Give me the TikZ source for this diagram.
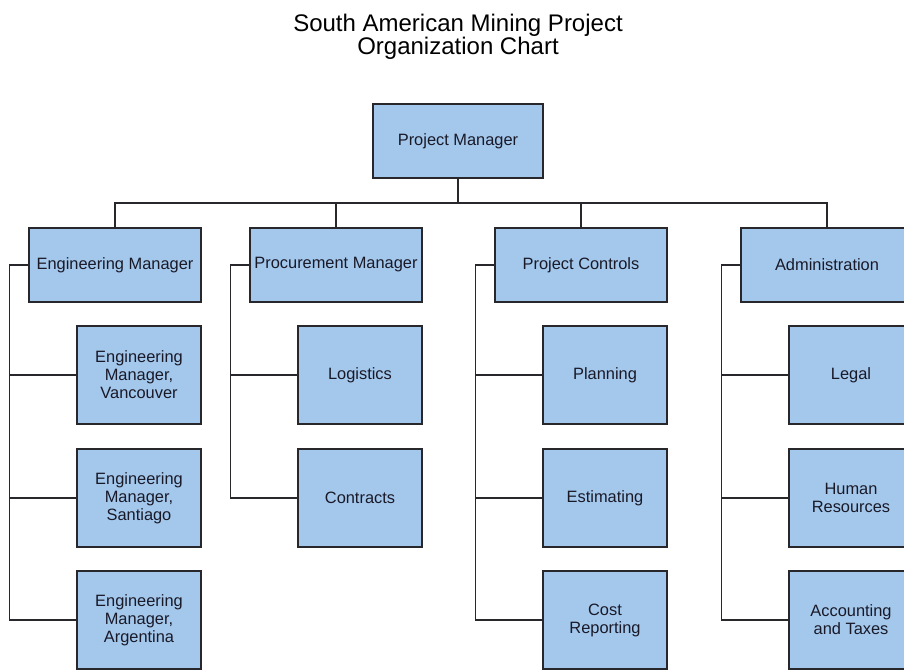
\documentclass[tikz,border=0pt]{standalone}
\usepackage{fontspec}
\setmainfont{Liberation Sans}
\begin{document}
\begin{tikzpicture}[x=1pt,y=-1pt,
  box/.style={draw=boxline, line width=1.4pt, fill=boxfill, align=center,
    font=\fontsize{16.4}{18}\selectfont, text=txt, inner sep=1pt},
  topbox/.style={box, minimum width=170pt, minimum height=74pt},
  headbox/.style={box, minimum width=172pt, minimum height=74pt},
  subbox/.style={box, minimum width=124pt, minimum height=98pt},
  link/.style={draw=boxline, line width=1.4pt}]
\definecolor{boxfill}{RGB}{164,200,236}
\definecolor{boxline}{RGB}{40,40,44}
\definecolor{txt}{RGB}{25,25,40}
\useasboundingbox[fill=white] (0,0) rectangle (904,669);

\node[font=\fontsize{24}{22}\selectfont, align=center, text=black] (title) at (458,37)
  {South American Mining Project\\Organization Chart};

\node[topbox] (pm) at (458,141) {Project Manager};

\node[headbox] (em) at (115,265) {Engineering Manager};
\node[headbox] (prm) at (336,265) {Procurement Manager};
\node[headbox] (pc) at (581,265) {Project Controls};
\node[headbox] (ad) at (827,265) {Administration};

\node[subbox] (ev) at (139,375) {Engineering\\Manager,\\Vancouver};
\node[subbox] (es) at (139,498) {Engineering\\Manager,\\Santiago};
\node[subbox] (ea) at (139,620) {Engineering\\Manager,\\Argentina};

\node[subbox] (lo) at (360,375) {Logistics};
\node[subbox] (co) at (360,498) {Contracts};

\node[subbox] (pl) at (605,375) {Planning};
\node[subbox] (es2) at (605,498) {Estimating};
\node[subbox] (cr) at (605,620) {Cost\\Reporting};

\node[subbox] (le) at (851,375) {Legal};
\node[subbox] (hr) at (851,498) {Human\\Resources};
\node[subbox] (at) at (851,620) {Accounting\\and Taxes};

\coordinate (bus) at (458,203);
\draw[link] (pm.south) -- (bus);
\draw[link] (bus) -| (em.north);
\draw[link] (bus) -| (prm.north);
\draw[link] (bus) -| (pc.north);
\draw[link] (bus) -| (ad.north);

\foreach \p/\c in {em/ev, em/es, em/ea, prm/lo, prm/co, pc/pl, pc/es2, pc/cr, ad/le, ad/hr, ad/at}
  \draw[link] (\p.west) -- ++(-19,0) |- (\c.west);
\end{tikzpicture}
\end{document}
